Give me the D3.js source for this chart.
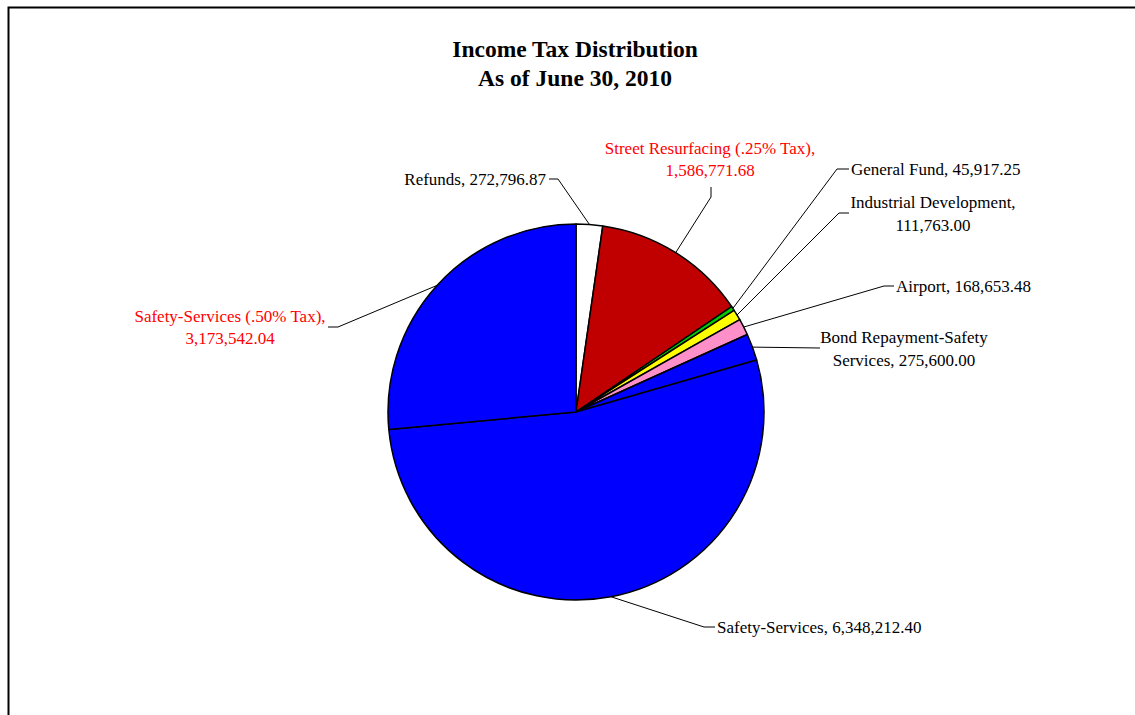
<!DOCTYPE html>
<html>
<head>
<meta charset="utf-8">
<script src="https://cdn.jsdelivr.net/npm/d3@7"></script>
<style>
  html, body { margin: 0; padding: 0; background: #fff; }
  svg { display: block; }
</style>
</head>
<body>
<svg id="chart" width="1135" height="715"></svg>
<script>
const W = 1135, H = 715;

// данные
const categories = [
  'Refunds',
  'Street Resurfacing (.25% Tax)',
  'General Fund',
  'Industrial Development',
  'Airport',
  'Bond Repayment-Safety Services',
  'Safety-Services',
  'Safety-Services (.50% Tax)'
];
const amounts = [272796.87, 1586771.68, 45917.25, 111763.00, 168653.48, 275600.00, 6348212.40, 3173542.04];
const sliceColors = ['#ffffff', '#c00000', '#00cc00', '#ffff00', '#ff8fc8', '#0000ff', '#0000ff', '#0000ff'];
const labelColors = ['#000', '#ff0000', '#000', '#000', '#000', '#000', '#000', '#ff0000'];
const titleLines = ['Income Tax Distribution', 'As of June 30, 2010'];

// раскладка подписей: изломы выносок, позиция текста, сколько слов в первой строке
const LABEL_LAYOUT = [
  { path: [[558,179],[549,179]], x: 546, y: [179],      anchor: 'end',    wrap: 0 },
  { path: [[711,197],[711,187]], x: 710, y: [148,170],  anchor: 'middle', wrap: 4 },
  { path: [[837,169],[849,169]], x: 851, y: [169],      anchor: 'start',  wrap: 0 },
  { path: [[839,213],[849,213]], x: 933, y: [202,225],  anchor: 'middle', wrap: 2 },
  { path: [[884,286],[894,286]], x: 896, y: [286],      anchor: 'start',  wrap: 0 },
  { path: [[820,348]],           x: 904, y: [337,360],  anchor: 'middle', wrap: 2 },
  { path: [[704,627],[715,627]], x: 717, y: [627],      anchor: 'start',  wrap: 0 },
  { path: [[338,327],[328,327]], x: 230, y: [316,338],  anchor: 'middle', wrap: 3 }
];

const cx = 576, cy = 412, R = 188;
const fmt = d3.format(',.2f');
const svg = d3.select('#chart');

// рамка
svg.append('path')
  .attr('d', `M8.5,${H} L8.5,7.5 L${W},7.5`)
  .attr('fill', 'none').attr('stroke', '#000').attr('stroke-width', 2);

// заголовок
svg.append('text')
  .attr('x', 575).attr('y', 49)
  .attr('text-anchor', 'middle').attr('dominant-baseline', 'central')
  .attr('font-family', '"Liberation Serif", "Times New Roman", serif')
  .attr('font-weight', 'bold').attr('font-size', 23.5)
  .selectAll('tspan').data(titleLines).join('tspan')
  .attr('x', 575).attr('dy', (d, i) => i ? 29 : 0)
  .text(d => d);

const pie = d3.pie().sort(null).value(d => d)(amounts);
const arc = d3.arc().innerRadius(0).outerRadius(R);

const g = svg.append('g').attr('transform', `translate(${cx},${cy})`);
g.selectAll('path.slice')
  .data(pie)
  .join('path')
  .attr('class', 'slice')
  .attr('d', arc)
  .attr('fill', (d, i) => sliceColors[i])
  .attr('stroke', '#000')
  .attr('stroke-width', 1.5)
  .attr('stroke-linejoin', 'round');

// выноски и подписи
pie.forEach((d, i) => {
  const L = LABEL_LAYOUT[i];
  const mid = (d.startAngle + d.endAngle) / 2;
  const p0 = [cx + R * Math.sin(mid), cy - R * Math.cos(mid)];
  const pts = [p0].concat(L.path);
  svg.append('path')
    .attr('d', d3.line()(pts))
    .attr('fill', 'none').attr('stroke', '#000').attr('stroke-width', 1);

  const full = categories[i] + ', ' + fmt(amounts[i]);
  let lines = [full];
  if (L.wrap) {
    const words = full.split(' ');
    lines = [words.slice(0, L.wrap).join(' '), words.slice(L.wrap).join(' ')];
  }
  const t = svg.append('text')
    .attr('text-anchor', L.anchor)
    .attr('dominant-baseline', 'central')
    .attr('font-family', '"Liberation Serif", "Times New Roman", serif')
    .attr('font-size', 17)
    .attr('fill', labelColors[i]);
  t.selectAll('tspan').data(lines).join('tspan')
    .attr('x', L.x).attr('y', (s, j) => L.y[j])
    .text(s => s);
});
</script>
</body>
</html>
